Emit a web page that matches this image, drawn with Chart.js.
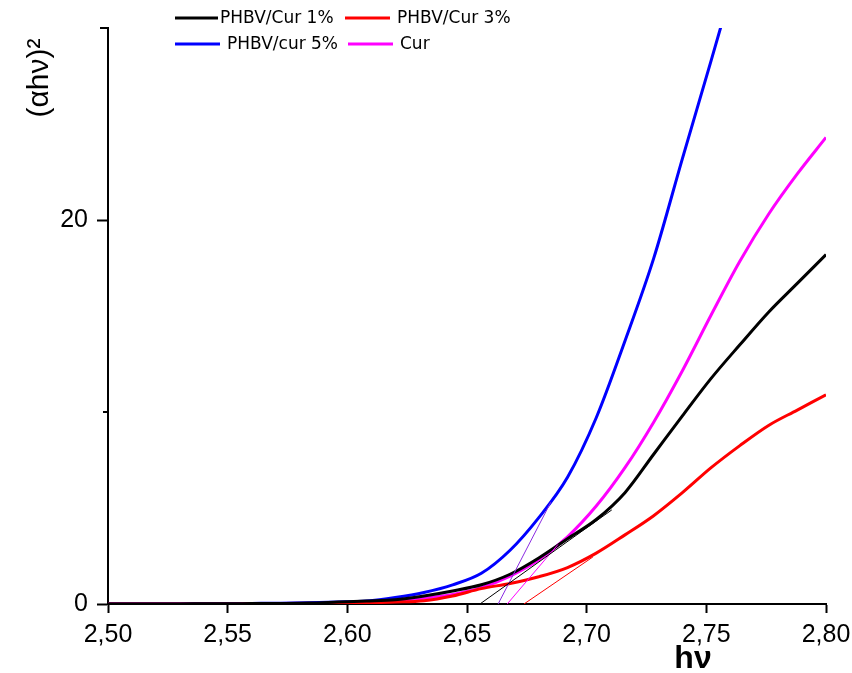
<!DOCTYPE html>
<html><head><meta charset="utf-8">
<script src="https://cdn.jsdelivr.net/npm/chart.js@4/dist/chart.umd.min.js"></script>
<style>html,body{margin:0;padding:0;background:#fff}</style>
</head><body>
<canvas id="c" width="852" height="673"></canvas>
<script>
// ---- data ----
const hv = [2.500, 2.512, 2.524, 2.536, 2.548, 2.560, 2.572, 2.584, 2.596, 2.608, 2.620, 2.632, 2.644,
            2.656, 2.668, 2.680, 2.692, 2.704, 2.716, 2.728, 2.740, 2.752, 2.764, 2.776, 2.788, 2.800];
const cur1 = [0, 0, 0, 0.01, 0.01, 0.02, 0.03, 0.05, 0.1, 0.15, 0.22, 0.42, 0.68,
              1.0, 1.55, 2.4, 3.4, 4.4, 5.8, 7.8, 9.8, 11.75, 13.5, 15.2, 16.7, 18.2];
const cur3 = [0, 0, 0, 0, 0, 0.01, 0.01, 0.02, 0.03, 0.06, 0.1, 0.17, 0.42,
              0.8, 1.07, 1.42, 1.9, 2.65, 3.6, 4.6, 5.8, 7.1, 8.25, 9.3, 10.1, 10.9];
const cur5 = [0.01, 0.01, 0.01, 0.02, 0.02, 0.03, 0.04, 0.06, 0.1, 0.16, 0.34, 0.6, 1.0,
              1.6, 2.8, 4.5, 6.6, 9.7, 13.7, 18.0, 23.2, 28.3, 33.5];
const curPure = [0, 0, 0, 0, 0.01, 0.01, 0.02, 0.04, 0.07, 0.12, 0.18, 0.3, 0.5,
                 0.85, 1.45, 2.3, 3.5, 5.1, 7.1, 9.47, 12.15, 15.05, 17.85, 20.3, 22.4, 24.3];
// tangent (band-gap extrapolation) lines: [x0, x1], [y0, y1]
const tan1X = [2.6554, 2.7105], tan1Y = [0, 4.9];
const tan5X = [2.6630, 2.6850], tan5Y = [0, 5.3];
const tanCX = [2.6668, 2.6880], tanCY = [0, 3.1];
const tan3X = [2.6738, 2.7026], tan3Y = [0, 2.45];
const seriesLabels = ['PHBV/Cur 1%', 'PHBV/Cur 3%', 'PHBV/cur 5%', 'Cur'];
const seriesColors = ['#000000', '#ff0000', '#0000ff', '#ff00ff'];
const xTicks = [2.50, 2.55, 2.60, 2.65, 2.70, 2.75, 2.80];
const yTicks = [0, 10, 20, 30];
const yLabeled = [0, 20];

const pts = (xs, ys) => ys.map((y, i) => ({x: xs[i], y}));
const main = [cur1, cur3, cur5, curPure].map((arr, i) => ({
  label: seriesLabels[i], data: pts(hv, arr), borderColor: seriesColors[i],
  borderWidth: 3, pointRadius: 0, cubicInterpolationMode: 'monotone', clip: 0
}));
const tan = (xs, ys, color) => ({label: '', data: pts(xs, ys), borderColor: color,
  borderWidth: 1, pointRadius: 0, clip: 0});
const datasets = [
  tan(tan1X, tan1Y, '#000000'), tan(tan5X, tan5Y, '#8a2be2'),
  tan(tanCX, tanCY, '#ff00ff'), tan(tan3X, tan3Y, '#ff0000'),
  ...main
];

const FONT = "'Liberation Sans', Arial, sans-serif";
const deco = {
  id: 'deco',
  afterDraw(chart) {
    const c = chart.ctx;
    const ys = chart.scales.y;
    c.save();
    // minor y ticks (unlabelled)
    c.strokeStyle = '#000'; c.lineWidth = 2;
    yTicks.filter(v => !yLabeled.includes(v)).forEach(v => {
      const py = Math.round(ys.getPixelForValue(v));
      const len = v === ys.max ? 8 : 5;
      c.beginPath(); c.moveTo(ys.right, py); c.lineTo(ys.right - len, py); c.stroke();
    });
    // legend (2 x 2)
    const slots = [[175, 218, 220, 18], [345, 390, 397, 18], [175, 220, 227, 44], [348, 393, 400, 44]];
    c.font = "17px 'DejaVu Sans', sans-serif";
    c.textBaseline = 'middle';
    c.textAlign = 'left';
    seriesLabels.forEach((lab, i) => {
      const [x0, x1, tx, y] = slots[i];
      c.strokeStyle = seriesColors[i]; c.lineWidth = 3;
      c.beginPath(); c.moveTo(x0, y); c.lineTo(x1, y); c.stroke();
      c.fillStyle = '#000'; c.fillText(lab, tx, y + 1);
    });
    // y title
    c.save();
    c.translate(40, 78); c.rotate(-Math.PI / 2);
    c.font = "30px " + FONT; c.textAlign = 'center'; c.textBaseline = 'middle';
    c.fillText('(\u03b1h\u03bd)\u00b2', 0, 0);
    c.restore();
    // x title
    c.font = "bold 32px " + FONT; c.textAlign = 'center'; c.textBaseline = 'middle';
    c.fillText('h\u03bd', 693, 659);
    c.restore();
  }
};

new Chart(document.getElementById('c'), {
  type: 'line',
  data: {datasets},
  options: {
    responsive: false, animation: false,
    layout: {padding: {top: 28, right: 26, left: 0, bottom: 0}},
    plugins: {legend: {display: false}, tooltip: {enabled: false}},
    scales: {
      x: {
        type: 'linear', min: 2.5, max: 2.8,
        afterBuildTicks: s => { s.ticks = xTicks.map(v => ({value: v})); },
        afterFit: s => { s.height = 69; s.paddingLeft = 0; s.paddingRight = 0; },
        ticks: {callback: v => v.toFixed(2).replace('.', ','), color: '#000',
                font: {family: FONT, size: 25}, padding: 7, maxRotation: 0, autoSkip: false},
        grid: {drawOnChartArea: false, tickLength: 9, tickWidth: 2, tickColor: '#000'},
        border: {color: '#000', width: 2}
      },
      y: {
        type: 'linear', min: 0, max: 30,
        afterBuildTicks: s => { s.ticks = yTicks.map(v => ({value: v})); },
        afterFit: s => { s.width = 108; s.paddingTop = 0; s.paddingBottom = 0; },
        ticks: {callback: v => yLabeled.includes(v) ? String(v) : '', color: '#000',
                font: {family: FONT, size: 25}, padding: 9, autoSkip: false},
        grid: {drawOnChartArea: false, tickLength: 11, tickWidth: 2,
               tickColor: ctx => (ctx.tick && yLabeled.includes(ctx.tick.value)) ? '#000' : 'rgba(0,0,0,0)'},
        border: {color: '#000', width: 2}
      }
    }
  },
  plugins: [deco]
});
</script>
</body></html>
